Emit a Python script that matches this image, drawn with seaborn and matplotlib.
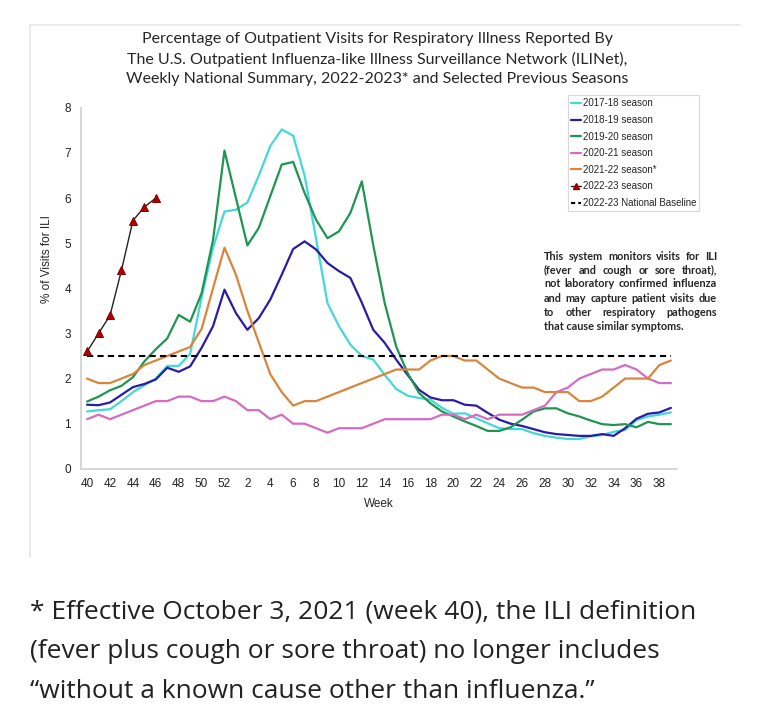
import numpy as np
import pandas as pd
import seaborn as sns
import matplotlib.pyplot as plt
from matplotlib.lines import Line2D

# week axis: season runs from week 40 through week 39 of the next year
weeks = list(range(40, 53)) + list(range(1, 40))

s2017_18 = [1.27, 1.30, 1.32, 1.50, 1.70, 1.85, 2.00, 2.28, 2.28, 2.55,
            3.80, 4.90, 5.70, 5.74, 5.90, 6.50, 7.15, 7.52, 7.38, 6.50,
            5.10, 3.67, 3.16, 2.75, 2.50, 2.42, 2.08, 1.77, 1.62, 1.57,
            1.53, 1.35, 1.22, 1.23, 1.12, 1.01, 0.90, 0.88, 0.88, 0.79,
            0.73, 0.69, 0.66, 0.66, 0.72, 0.75, 0.82, 0.86, 1.08, 1.16,
            1.20, 1.25]
s2018_19 = [1.42, 1.41, 1.47, 1.64, 1.81, 1.88, 1.98, 2.24, 2.15, 2.27,
            2.68, 3.16, 3.97, 3.45, 3.08, 3.34, 3.75, 4.30, 4.87, 5.04,
            4.86, 4.56, 4.38, 4.23, 3.68, 3.08, 2.79, 2.42, 2.08, 1.75,
            1.58, 1.52, 1.52, 1.42, 1.40, 1.24, 1.09, 1.00, 0.95, 0.88,
            0.81, 0.77, 0.75, 0.73, 0.73, 0.77, 0.73, 0.90, 1.11, 1.22,
            1.25, 1.35]
s2019_20 = [1.49, 1.60, 1.74, 1.84, 2.03, 2.38, 2.65, 2.89, 3.41, 3.26,
            3.89, 5.07, 7.05, 6.00, 4.95, 5.34, 6.04, 6.74, 6.80, 6.11,
            5.52, 5.11, 5.26, 5.67, 6.37, 4.95, 3.67, 2.71, 2.12, 1.68,
            1.45, 1.27, 1.16, 1.05, 0.95, 0.84, 0.84, 0.92, 1.09, 1.27,
            1.34, 1.34, 1.23, 1.16, 1.07, 0.99, 0.97, 0.99, 0.92, 1.04,
            0.99, 0.99]
s2020_21 = [1.1, 1.2, 1.1, 1.2, 1.3, 1.4, 1.5, 1.5, 1.6, 1.6,
            1.5, 1.5, 1.6, 1.5, 1.3, 1.3, 1.1, 1.2, 1.0, 1.0,
            0.9, 0.8, 0.9, 0.9, 0.9, 1.0, 1.1, 1.1, 1.1, 1.1,
            1.1, 1.2, 1.2, 1.1, 1.2, 1.1, 1.2, 1.2, 1.2, 1.3,
            1.4, 1.7, 1.8, 2.0, 2.1, 2.2, 2.2, 2.3, 2.2, 2.0,
            1.9, 1.9]
s2021_22 = [2.0, 1.9, 1.9, 2.0, 2.1, 2.3, 2.4, 2.5, 2.6, 2.7,
            3.1, 4.0, 4.9, 4.3, 3.5, 2.8, 2.1, 1.7, 1.4, 1.5,
            1.5, 1.6, 1.7, 1.8, 1.9, 2.0, 2.1, 2.2, 2.2, 2.2,
            2.4, 2.5, 2.5, 2.4, 2.4, 2.2, 2.0, 1.9, 1.8, 1.8,
            1.7, 1.7, 1.7, 1.5, 1.5, 1.6, 1.8, 2.0, 2.0, 2.0,
            2.3, 2.4]
s2022_23 = [2.6, 3.0, 3.4, 4.4, 5.5, 5.8, 6.0]
baseline = 2.5

season_labels = ["2017-18 season", "2018-19 season", "2019-20 season",
                 "2020-21 season", "2021-22 season*"]
season_colors = ["#45d8d8", "#2a1ca6", "#1f9552", "#d46cc2", "#d9853c"]

footnote = ["* Effective October 3, 2021 (week 40), the ILI definition",
            "(fever plus cough or sore throat) no longer includes",
            "\u201cwithout a known cause other than influenza.\u201d"]

idx = np.arange(len(weeks))
df = pd.concat([pd.DataFrame({"idx": idx, "ili": vals, "season": lab})
                for lab, vals in zip(season_labels,
                                     [s2017_18, s2018_19, s2019_20, s2020_21, s2021_22])])
cur = pd.DataFrame({"idx": idx[:len(s2022_23)], "ili": s2022_23})

sns.set_style("white")
plt.rcParams["font.family"] = ["Liberation Sans", "DejaVu Sans"]

fig = plt.figure(figsize=(7.68, 7.28), dpi=100)
ax = fig.add_axes([0.106, 0.356, 0.775, 0.496])

sns.lineplot(data=df, x="idx", y="ili", hue="season", palette=season_colors,
             hue_order=season_labels, lw=1.6, sort=False, legend=False, ax=ax)
ax.plot([idx[0], idx[-1]], [baseline, baseline], ls=(0, (3, 2)), color="black", lw=1.5)
sns.lineplot(data=cur, x="idx", y="ili", color="#222222", lw=1.0, marker="^",
             markersize=6, markerfacecolor="#b00000", markeredgecolor="#8a0000",
             ax=ax, legend=False)

ax.set_xlim(-0.5, len(weeks) - 0.5)
ax.set_ylim(0, 8)
ax.set_xticks(idx[::2])
ax.set_xticklabels([str(w) for w in weeks[::2]])
ax.set_xticks(idx, minor=True)
ax.set_yticks(range(0, 9))
ax.tick_params(axis="both", which="both", direction="out", length=3,
               color="#c8c8c8", labelsize=8.5, labelcolor="#222222")
ax.tick_params(axis="y", length=4)
for side in ["top", "right"]:
    ax.spines[side].set_visible(False)
for side in ["left", "bottom"]:
    ax.spines[side].set_color("#cfcfcf")
    ax.spines[side].set_linewidth(1.2)
ax.set_xlabel("Week", fontsize=8.5, labelpad=6)
ax.set_ylabel("% of Visits for ILI", fontsize=8.5)
ax.yaxis.set_label_coords(-0.048, 0.58)

# legend
handles = [Line2D([], [], color=c, lw=1.6) for c in season_colors]
handles.append(Line2D([], [], color="#222222", lw=1.0, marker="^", markersize=5,
                      markerfacecolor="#b00000", markeredgecolor="#8a0000"))
handles.append(Line2D([], [], color="black", lw=1.5, ls=(0, (2, 1.5))))
labels = season_labels + ["2022-23 season", "2022-23 National Baseline"]
leg = fig.legend(handles, labels, loc="upper left", bbox_to_anchor=(0.7396, 0.8695),
                 fontsize=7, frameon=True, fancybox=False, handlelength=1.0,
                 handletextpad=0.15, labelspacing=0.68, borderpad=0.35,
                 borderaxespad=0)
leg.get_frame().set_edgecolor("#cfcfcf")
leg.get_frame().set_linewidth(0.8)

# title
fig.text(0.491, 0.919, "Percentage of Outpatient Visits for Respiratory Illness Reported By\n"
         "The U.S. Outpatient Influenza-like Illness Surveillance Network (ILINet),\n"
         "Weekly National Summary, 2022-2023* and Selected Previous Seasons",
         ha="center", va="center", fontsize=11.5, family=["Lato", "DejaVu Sans"],
         linespacing=1.5)

# justified note inside the plot
note_lines = ["This system monitors visits for ILI",
              "(fever and cough or sore throat),",
              "not laboratory confirmed influenza",
              "and may capture patient visits due",
              "to other respiratory pathogens",
              "that cause similar symptoms."]
note_kw = dict(fontsize=7.8, fontweight="bold", family=["Lato", "DejaVu Sans"],
               va="center", ha="left")
x0, x1 = 544 / 768, 717 / 768
renderer = fig.canvas.get_renderer()
for k, line in enumerate(note_lines):
    y = 1 - (256 + k * 14) / 728
    if k == len(note_lines) - 1:
        fig.text(x0, y, line, **note_kw)
        continue
    words = [fig.text(0, y, w, **note_kw) for w in line.split()]
    widths = [t.get_window_extent(renderer).width / fig.bbox.width for t in words]
    gap = max((x1 - x0 - sum(widths)) / (len(words) - 1), 0.004)
    xpos = x0
    for t, w in zip(words, widths):
        t.set_x(xpos)
        xpos += w + gap

# footnote
for k, line in enumerate(footnote):
    fig.text(30 / 768, 1 - (612 + k * 40) / 728, line, ha="left", va="center",
             fontsize=19, family=["Open Sans", "DejaVu Sans"], color="#222222")

# faint frame of the embedded chart image
fig.add_artist(Line2D([30 / 768, 740 / 768], [1 - 25 / 728, 1 - 25 / 728],
                      color="#e6e6e6", lw=1.2, transform=fig.transFigure))
fig.add_artist(Line2D([30 / 768, 30 / 768], [1 - 25 / 728, 1 - 557 / 728],
                      color="#e6e6e6", lw=1.2, transform=fig.transFigure))

fig.savefig("out.png", dpi=100)
